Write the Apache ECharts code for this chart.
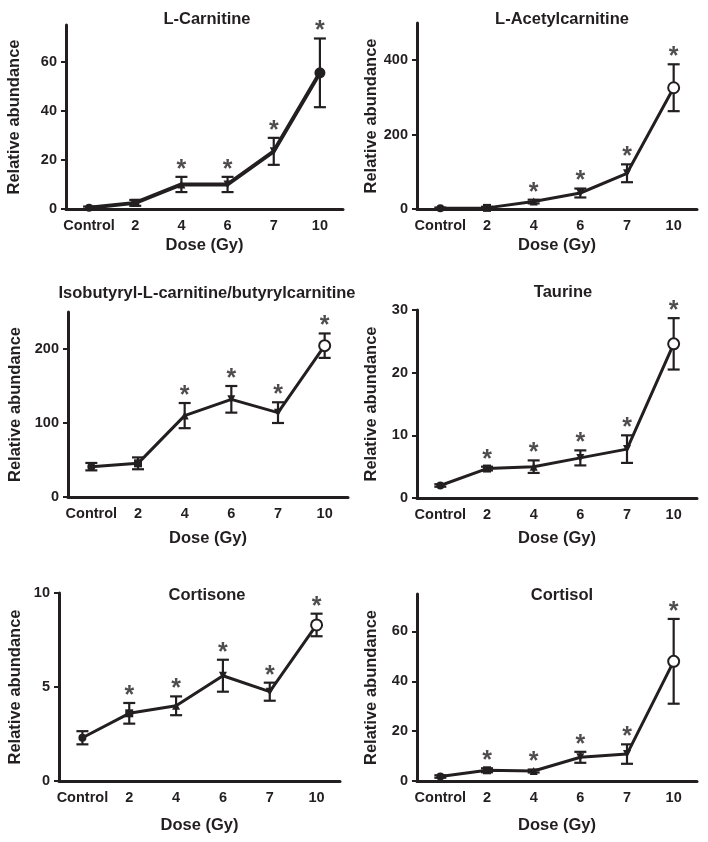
<!DOCTYPE html>
<html>
<head>
<meta charset="utf-8">
<script src="https://cdn.jsdelivr.net/npm/echarts@6/dist/echarts.min.js"></script>
<style>
  html, body { margin: 0; padding: 0; background: #fff; }
  #main { width: 708px; height: 842px; }
</style>
</head>
<body>
<div id="main"></div>
<script>
// dose groups, shared by all six panels
var doses = ['Control', '2', '4', '6', '7', '10'];

// L-Carnitine
var carnMean = [0.5, 2.5, 10, 10, 23.5, 55.5];
var carnErr = [0.5, 1.2, 3.1, 3.1, 5.5, 14];
var carnSig = [0, 0, 1, 1, 1, 1];
var carnTicks = [0, 20, 40, 60];

// L-Acetylcarnitine
var acetMean = [2, 3, 20, 43, 96, 326];
var acetErr = [2, 3, 5, 12, 24, 63];
var acetSig = [0, 0, 1, 1, 1, 1];
var acetTicks = [0, 200, 400];

// Isobutyryl-L-carnitine/butyrylcarnitine
var butyMean = [41, 45.5, 110, 132, 114, 204.5];
var butyErr = [5, 8, 17, 18, 14, 16.5];
var butySig = [0, 0, 1, 1, 1, 1];
var butyTicks = [0, 100, 200];

// Taurine
var taurMean = [2.0, 4.7, 5.0, 6.4, 7.8, 24.6];
var taurErr = [0.2, 0.3, 1.0, 1.2, 2.2, 4.1];
var taurSig = [0, 1, 1, 1, 1, 1];
var taurTicks = [0, 10, 20, 30];

// Cortisone
var consMean = [2.3, 3.6, 4.0, 5.6, 4.75, 8.3];
var consErr = [0.35, 0.55, 0.5, 0.85, 0.48, 0.6];
var consSig = [0, 1, 1, 1, 1, 1];
var consTicks = [0, 5, 10];

// Cortisol
var colMean = [1.8, 4.3, 4.0, 9.5, 10.8, 48];
var colErr = [0.5, 0.8, 0.6, 2.2, 3.9, 17];
var colSig = [0, 1, 1, 1, 1, 1];
var colTicks = [0, 20, 40, 60];

var INK = '#231f20';
var FONT = '"Liberation Sans", Arial, sans-serif';

var panels = [
    {title: 'L-Carnitine', mean: carnMean, err: carnErr, sig: carnSig, ticks: carnTicks, max: 75,
     grid: {left: 66, top: 25, width: 277, height: 184}, tx: 202, ty: 6, xGap: 28, yGap: 43, lw: 4, filledEnd: true},
    {title: 'L-Acetylcarnitine', mean: acetMean, err: acetErr, sig: acetSig, ticks: acetTicks, max: 500,
     grid: {left: 417, top: 23, width: 280, height: 186}, tx: 557, ty: 6, xGap: 28, yGap: 37, lw: 3},
    {title: 'Isobutyryl-L-carnitine/butyrylcarnitine', mean: butyMean, err: butyErr, sig: butySig, ticks: butyTicks, max: 250,
     grid: {left: 68, top: 312, width: 280, height: 185}, tx: 202, ty: 280, xGap: 33, yGap: 44, lw: 3},
    {title: 'Taurine', mean: taurMean, err: taurErr, sig: taurSig, ticks: taurTicks, max: 30,
     grid: {left: 417, top: 310, width: 280, height: 188}, tx: 558, ty: 279, xGap: 32, yGap: 37, lw: 3},
    {title: 'Cortisone', mean: consMean, err: consErr, sig: consSig, ticks: consTicks, max: 10,
     grid: {left: 59, top: 593, width: 281, height: 188}, tx: 202, ty: 582, xGap: 36, yGap: 35, lw: 3},
    {title: 'Cortisol', mean: colMean, err: colErr, sig: colSig, ticks: colTicks, max: 75,
     grid: {left: 417, top: 594, width: 280, height: 187}, tx: 557, ty: 582, xGap: 36, yGap: 37, lw: 3}
];

// marker shape per dose group
var markerShapes = [
    {symbol: 'circle', size: 8, rotate: 0},
    {symbol: 'rect', size: 8, rotate: 0},
    {symbol: 'triangle', size: 8, rotate: 0},
    {symbol: 'triangle', size: 8, rotate: 180},
    {symbol: 'triangle', size: 8, rotate: 180},
    {symbol: 'circle', size: 11, rotate: 0}
];

var titles = [], grids = [], xAxes = [], yAxes = [], series = [];

panels.forEach(function (p, k) {
    titles.push({
        text: p.title, left: p.tx, top: p.ty, textAlign: 'center',
        textStyle: {fontFamily: FONT, fontWeight: 'bold', fontSize: 16.5, color: INK}
    });
    grids.push(p.grid);
    xAxes.push({
        type: 'category', gridIndex: k, data: doses, boundaryGap: true,
        name: 'Dose (Gy)', nameLocation: 'middle', nameGap: p.xGap,
        nameTextStyle: {fontFamily: FONT, fontWeight: 'bold', fontSize: 16.5, color: INK},
        axisLine: {lineStyle: {color: INK, width: 3}},
        axisTick: {alignWithLabel: true, length: 5, lineStyle: {color: INK, width: 2}},
        axisLabel: {margin: 9, fontFamily: FONT, fontWeight: 'bold', fontSize: 14.5, color: INK, interval: 0},
        splitLine: {show: false}
    });
    yAxes.push({
        type: 'value', gridIndex: k, min: 0, max: p.max,
        name: 'Relative abundance', nameLocation: 'middle', nameGap: p.yGap,
        nameTextStyle: {fontFamily: FONT, fontWeight: 'bold', fontSize: 16.5, color: INK},
        axisLine: {show: true, lineStyle: {color: INK, width: 3}},
        axisTick: {show: true, length: 5, customValues: p.ticks, lineStyle: {color: INK, width: 2}},
        axisLabel: {margin: 9, customValues: p.ticks, fontFamily: FONT, fontWeight: 'bold', fontSize: 14.5, color: INK},
        splitLine: {show: false}
    });

    var lineData = p.mean.map(function (v, i) {
        var m = markerShapes[i];
        var open = (i === 5 && !p.filledEnd);
        return {
            value: v, symbol: m.symbol, symbolSize: m.size, symbolRotate: m.rotate,
            itemStyle: {color: open ? '#fff' : INK, borderColor: INK, borderWidth: open ? 2 : 0}
        };
    });
    var errData = p.mean.map(function (v, i) {
        return [i, Math.max(0, v - p.err[i]), v + p.err[i]];
    });
    var starData = [];
    p.sig.forEach(function (s, i) {
        if (s) starData.push([i, p.mean[i] + p.err[i]]);
    });

    series.push({
        type: 'custom', xAxisIndex: k, yAxisIndex: k, data: errData, z: 2, silent: true,
        renderItem: function (params, api) {
            var top = api.coord([api.value(0), api.value(2)]);
            var bot = api.coord([api.value(0), api.value(1)]);
            var w = 6;
            var st = {stroke: INK, lineWidth: 2.2};
            return {
                type: 'group',
                children: [
                    {type: 'line', shape: {x1: top[0], y1: top[1], x2: bot[0], y2: bot[1]}, style: st},
                    {type: 'line', shape: {x1: top[0] - w, y1: top[1], x2: top[0] + w, y2: top[1]}, style: st},
                    {type: 'line', shape: {x1: bot[0] - w, y1: bot[1], x2: bot[0] + w, y2: bot[1]}, style: st}
                ]
            };
        }
    });
    series.push({
        type: 'line', xAxisIndex: k, yAxisIndex: k, data: lineData, z: 3,
        showAllSymbol: true, silent: true,
        lineStyle: {color: INK, width: p.lw},
        itemStyle: {color: INK}
    });
    series.push({
        type: 'scatter', xAxisIndex: k, yAxisIndex: k, data: starData, z: 4, silent: true,
        symbol: 'circle', symbolSize: 1, itemStyle: {color: 'rgba(0,0,0,0)'},
        label: {
            show: true, position: 'top', distance: -6, formatter: '*',
            fontFamily: FONT, fontWeight: 'bold', fontSize: 25, color: INK
        }
    });
});

var chart = echarts.init(document.getElementById('main'));
chart.setOption({
    backgroundColor: '#fff',
    animation: false,
    title: titles,
    grid: grids,
    xAxis: xAxes,
    yAxis: yAxes,
    series: series
});
</script>
</body>
</html>
